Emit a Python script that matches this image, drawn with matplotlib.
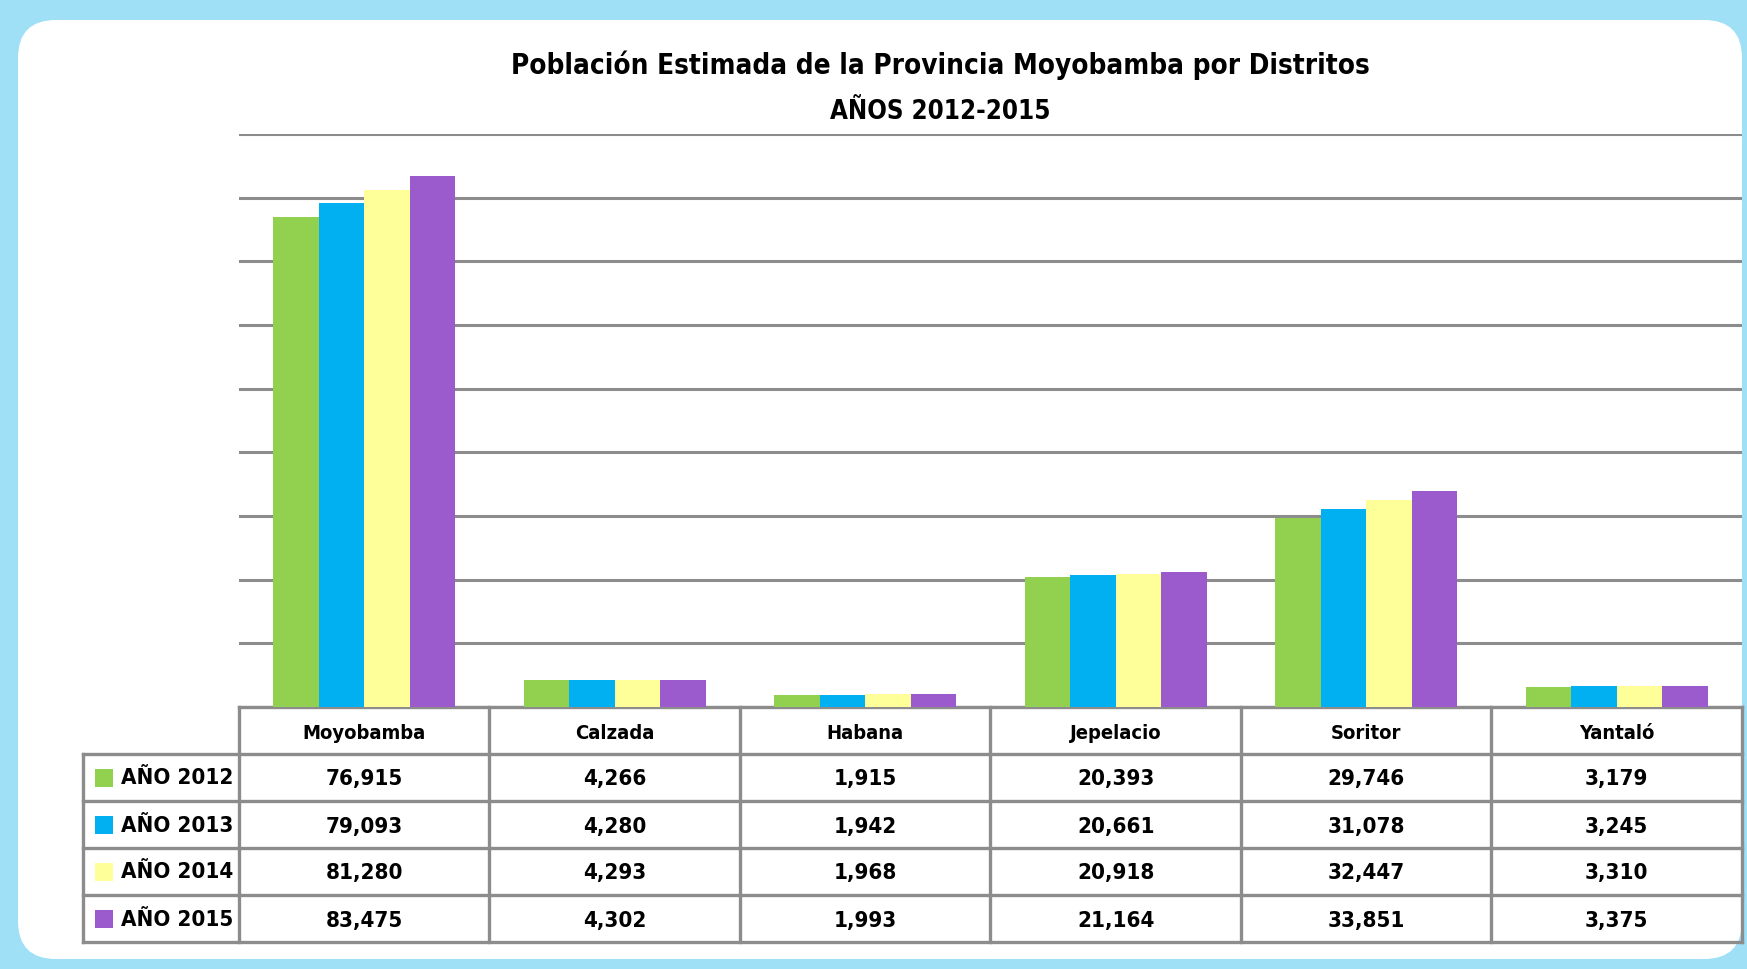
import numpy as np
import matplotlib.pyplot as plt
from matplotlib.patches import FancyBboxPatch, Rectangle

distritos = ['Moyobamba', 'Calzada', 'Habana', 'Jepelacio', 'Soritor', 'Yantaló']
series = ['AÑO 2012', 'AÑO 2013', 'AÑO 2014', 'AÑO 2015']
anio_2012 = [76915, 4266, 1915, 20393, 29746, 3179]
anio_2013 = [79093, 4280, 1942, 20661, 31078, 3245]
anio_2014 = [81280, 4293, 1968, 20918, 32447, 3310]
anio_2015 = [83475, 4302, 1993, 21164, 33851, 3375]
valores = [anio_2012, anio_2013, anio_2014, anio_2015]
colores = ['#92d050', '#00b0f0', '#ffff99', '#9b5bcc']

titulo = 'Población Estimada de la Provincia Moyobamba por Distritos'
subtitulo = 'AÑOS 2012-2015'

plt.rcParams['font.family'] = ['DejaVu Sans']
plt.rcParams['font.stretch'] = 'condensed'

W, H = 1747, 969
fig = plt.figure(figsize=(W / 100, H / 100), dpi=100)
fig.patch.set_facecolor('#9fe0f6')

# canvas in pixel units (y downwards)
cv = fig.add_axes([0, 0, 1, 1], zorder=0)
cv.set_xlim(0, W)
cv.set_ylim(H, 0)
cv.axis('off')
cv.add_patch(FancyBboxPatch((18, 20), 1742 - 18, 959 - 20,
                            boxstyle='round,pad=0,rounding_size=38',
                            fc='white', ec='none'))

cv.text(940, 65, titulo, ha='center', va='center', fontsize=20, fontweight='bold')
cv.text(940, 112, subtitulo, ha='center', va='center', fontsize=18.5, fontweight='bold')

# plot area
x0, x1 = 239, 1742
ytop, ybot = 134, 707
ax = fig.add_axes([x0 / W, (H - ybot) / H, (x1 - x0) / W, (ybot - ytop) / H], zorder=1)
ax.patch.set_alpha(0)
x = np.arange(len(distritos))
w = 0.182
for i, (vals, c) in enumerate(zip(valores, colores)):
    ax.bar(x + (i - 1.5) * w, vals, width=w, color=c, zorder=2)
ax.set_xlim(-0.5, len(distritos) - 0.5)
ax.set_ylim(0, 90000)
ax.set_yticks(np.arange(0, 90001, 10000))
ax.grid(axis='y', color='#8c8c8c', lw=2.2, zorder=0)
ax.set_axisbelow(True)
ax.tick_params(length=0, labelleft=False, labelbottom=False)
for s in ax.spines.values():
    s.set_visible(False)

# data table
col_w = (x1 - x0) / len(distritos)
lx = 83
row_h = 47
hdr_b = 754
lc = '#8c8c8c'
lw = 2.4
n_rows = len(series)
tab_b = hdr_b + n_rows * row_h
cv.plot([x0, x1], [ybot, ybot], color=lc, lw=lw)
for j in range(len(distritos) + 1):
    cv.plot([x0 + j * col_w] * 2, [ybot, tab_b], color=lc, lw=lw)
for r in range(n_rows + 1):
    cv.plot([lx, x1], [hdr_b + r * row_h] * 2, color=lc, lw=lw)
cv.plot([lx, lx], [hdr_b, tab_b], color=lc, lw=lw)

fs = 16
for j, d in enumerate(distritos):
    cv.text(x0 + (j + 0.5) * col_w, (ybot + hdr_b) / 2 + 3, d, ha='center', va='center',
            fontsize=14.5, fontweight='bold')
for r, (name, vals, c) in enumerate(zip(series, valores, colores)):
    yc = hdr_b + (r + 0.5) * row_h
    cv.add_patch(Rectangle((95, yc - 9), 18, 18, fc=c, ec='none'))
    cv.text(121, yc + 1, name, ha='left', va='center', fontsize=fs, fontweight='bold')
    for j, v in enumerate(vals):
        cv.text(x0 + (j + 0.5) * col_w, yc + 2, f'{v:,}', ha='center', va='center',
                fontsize=fs, fontweight='bold')

fig.savefig('out.png', dpi=100, facecolor=fig.get_facecolor())
